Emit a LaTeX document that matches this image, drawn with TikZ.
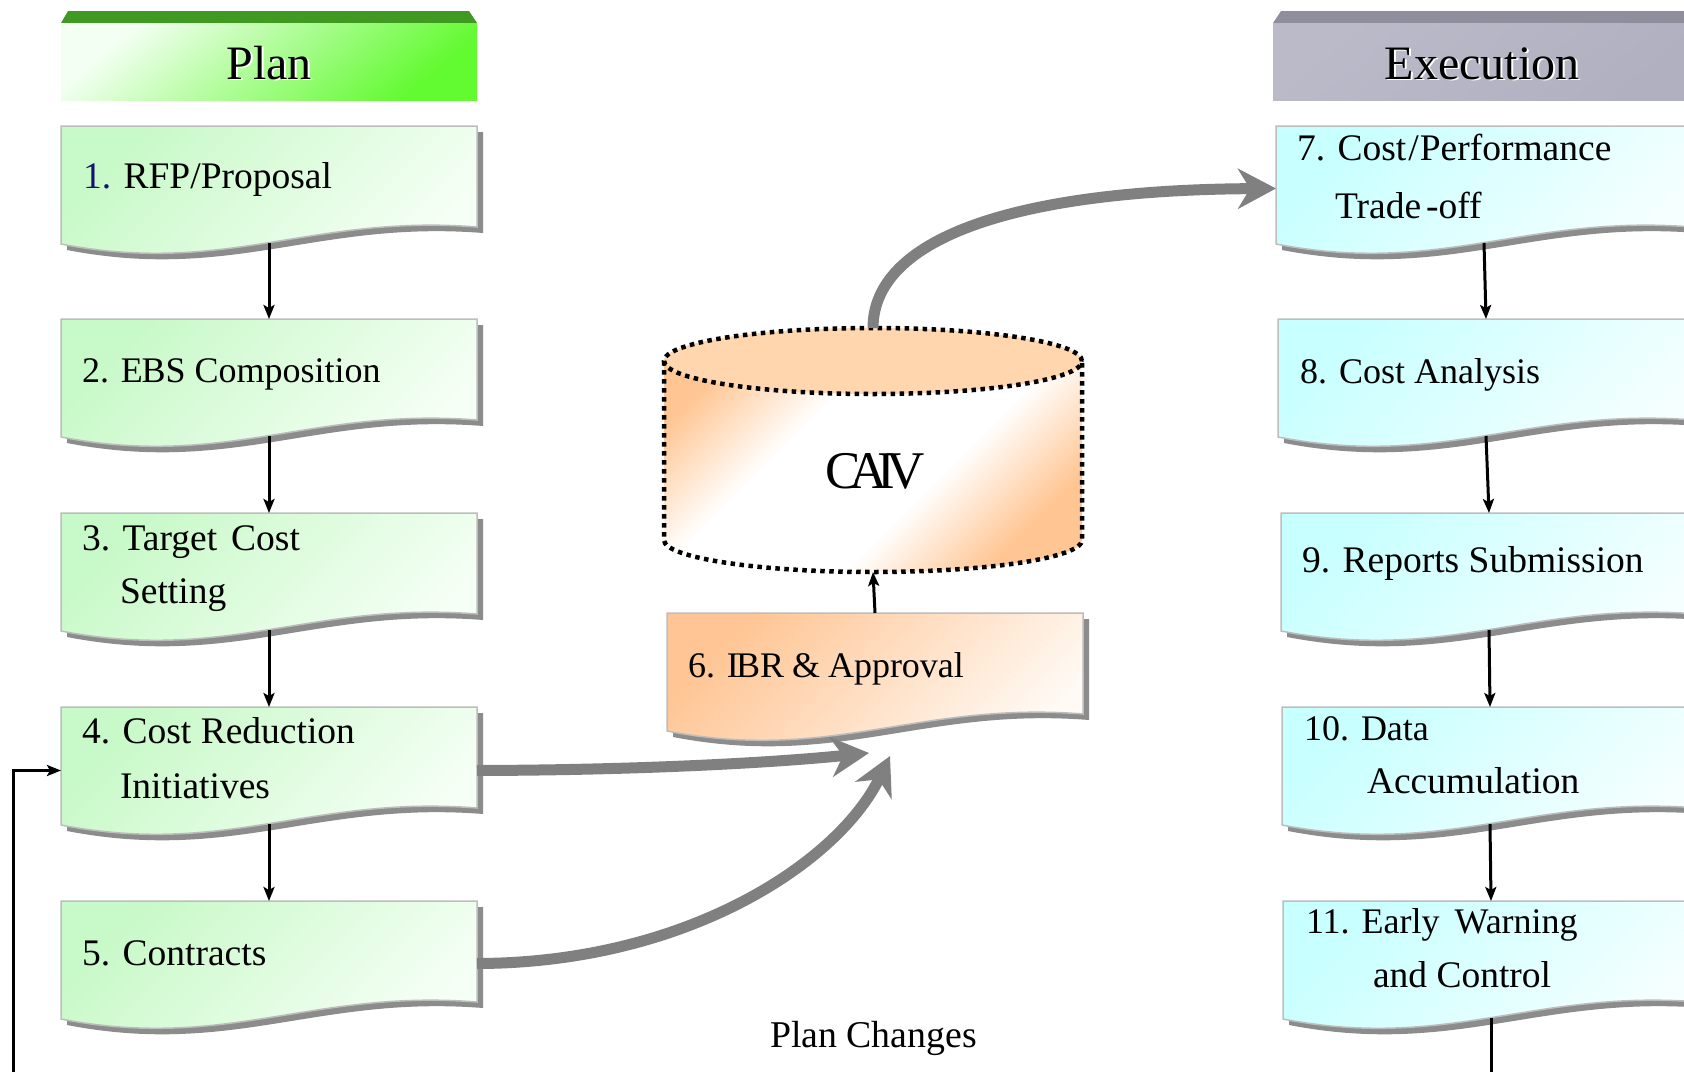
\documentclass[tikz,border=0pt]{standalone}
\usepackage{fontspec}
\setmainfont{Liberation Serif}
\usetikzlibrary{arrows.meta,calc}

\definecolor{planA}{HTML}{C8F9C8}
\definecolor{planB}{HTML}{F6FFF6}
\definecolor{execA}{HTML}{C8FFFF}
\definecolor{execB}{HTML}{F6FFFF}
\definecolor{ibrA}{HTML}{FFC594}
\definecolor{ibrB}{HTML}{FFFAF5}
\definecolor{cylOr}{HTML}{FFC693}
\definecolor{cylTop}{HTML}{FFD6AD}
\definecolor{boxline}{HTML}{BDBDBD}
\definecolor{docshadow}{HTML}{8C8C8C}
\definecolor{arrowgray}{HTML}{808080}
\definecolor{planband}{HTML}{409A22}
\definecolor{planhdrA}{HTML}{F4FFF4}
\definecolor{planhdrB}{HTML}{62FA30}
\definecolor{execband}{HTML}{8E8E9C}
\definecolor{exechdrA}{HTML}{BABAC9}
\definecolor{exechdrB}{HTML}{B0B0C0}
\definecolor{numblue}{HTML}{14146E}

% body of the CAIV store: orange corners, broad white middle
\pgfdeclareverticalshading{cylbody}{100bp}{%
  color(0bp)=(cylOr); color(25bp)=(cylOr); color(40bp)=(white);
  color(60bp)=(white); color(75bp)=(cylOr); color(100bp)=(cylOr)}

% document-style box: x, y of top-left corner, two gradient colours
\newcommand\docshape[4]{%
  \fill[docshadow] ({#1+6},{#2+6}) -- ({#1+422},{#2+6}) -- ({#1+422},{#2+107})
    .. controls ({#1+256},{#2+94}) and ({#1+172},{#2+156}) .. ({#1+6},{#2+124}) -- cycle;
  \shadedraw[top color=#3, bottom color=#4, shading angle=45, draw=boxline, line width=1.5pt]
    (#1,#2) -- ({#1+416},#2) -- ({#1+416},{#2+101})
    .. controls ({#1+250},{#2+88}) and ({#1+166},{#2+150}) .. (#1,{#2+118}) -- cycle;
}

\tikzset{
  every node/.style={inner sep=0pt, outer sep=0pt},
  boxnode/.style={anchor=north west, minimum width=416pt, minimum height=117pt, draw=none},
  boxtext/.style={anchor=base west, font=\fontsize{37.5}{40}\selectfont},
  smalltext/.style={boxtext, font=\fontsize{36}{40}\selectfont},
  hdrtext/.style={anchor=base, font=\fontsize{48}{52}\selectfont},
  blk/.style={line width=3pt, draw=black, -{Stealth[length=14pt,width=11pt,inset=3pt]}},
  blkline/.style={line width=3pt, draw=black},
  garr/.style={line width=11pt, draw=arrowgray, -{Stealth[length=38pt,width=40pt,inset=12pt]}},
  cyldot/.style={draw=black, line width=4.5pt, dash pattern=on 4.5pt off 4.5pt},
}

\begin{document}
\begin{tikzpicture}[x=1pt, y=-1pt]
\useasboundingbox (0,0) rectangle (1684,1071);
\fill[white] (0,0) rectangle (1684,1071);
\clip (0,0) rectangle (1684,1071);

% column headers
\fill[planband] (68,11) -- (469,11) -- (477,23) -- (61,23) -- cycle;
\shade[top color=planhdrA, bottom color=planhdrB, shading angle=40] (61,23) rectangle (477,100);
\node[hdrtext, text=white] (hplansh) at (271,80.5) {Plan};
\node[hdrtext] (hplan) at (269,79) {Plan};

\fill[execband] (1281,11) -- (1700,11) -- (1700,23) -- (1273,23) -- cycle;
\shade[top color=exechdrA, bottom color=exechdrB, shading angle=40] (1273,23) rectangle (1700,100);
\node[hdrtext, text=white] (hexecsh) at (1484,80.5) {Execution};
\node[hdrtext] (hexec) at (1482,79) {Execution};

% planning steps
\docshape{61}{126}{planA}{planB}
\docshape{61}{319}{planA}{planB}
\docshape{61}{513}{planA}{planB}
\docshape{61}{707}{planA}{planB}
\docshape{61}{901}{planA}{planB}
\node[boxnode] (b1) at (61,126) {};
\node[boxnode] (b2) at (61,319) {};
\node[boxnode] (b3) at (61,513) {};
\node[boxnode] (b4) at (61,707) {};
\node[boxnode] (b5) at (61,901) {};

\node[boxtext] (t1) at (83,188) {{\color{numblue}1.} RFP/Proposal};
\node[smalltext] (t2) at (82,382) {2. E\kern-1.5pt BS Composition};
\node[boxtext] (t3a) at (82,550) {3. Target\kern14pt Cost};
\node[boxtext] (t3b) at (120,603) {Setting};
\node[boxtext] (t4a) at (82,743) {4. Cost Reduction};
\node[boxtext] (t4b) at (120,798) {Initiatives};
\node[boxtext] (t5) at (82,965) {5. Contracts};

% execution steps
\docshape{1276}{126}{execA}{execB}
\docshape{1278}{319}{execA}{execB}
\docshape{1281}{513}{execA}{execB}
\docshape{1282}{707}{execA}{execB}
\docshape{1283}{901}{execA}{execB}
\node[boxnode] (b7) at (1276,126) {};
\node[boxnode] (b8) at (1278,319) {};
\node[boxnode] (b9) at (1281,513) {};
\node[boxnode] (b10) at (1282,707) {};
\node[boxnode] (b11) at (1283,901) {};

\node[boxtext] (t7a) at (1297,160) {7. Cost\kern2pt/\kern1pt Performance};
\node[boxtext] (t7b) at (1335,218) {Trade\kern5pt-off};
\node[smalltext] (t8) at (1300,383) {8. Cost Analysis};
\node[boxtext] (t9) at (1302,572) {9. Reports Submission};
\node[smalltext] (t10a) at (1304,740) {10. Data};
\node[boxtext] (t10b) at (1367,793) {Accumulation};
\node[smalltext] (t11a) at (1306,933) {11. Early\kern6pt\ Warning};
\node[boxtext] (t11b) at (1373,987) {and Control};

% approval step
\docshape{667}{613}{ibrA}{ibrB}
\node[boxnode] (b6) at (667,613) {};
\node[smalltext] (t6) at (688,677) {6. I\kern-3pt BR \kern-1pt\&\kern-1pt\ Approval};

% CAIV cylinder
\shade[shading=cylbody, shading angle=45]
  (664,361) -- (664,540) arc[start angle=180, end angle=360, x radius=209pt, y radius=32pt]
  -- (1082,361) arc[start angle=0, end angle=180, x radius=209pt, y radius=33pt] -- cycle;
\fill[cylTop] (873,361) ellipse[x radius=209pt, y radius=33pt];
\draw[cyldot] (873,361) ellipse[x radius=209pt, y radius=33pt];
\draw[cyldot] (664,361) -- (664,540) arc[start angle=180, end angle=360, x radius=209pt, y radius=32pt] -- (1082,361);
\node[minimum width=418pt, minimum height=244pt, anchor=north] (caiv) at (873,328) {};
\node[anchor=base, font=\fontsize{53}{56}\selectfont] (caivlbl) at (875,488) {C\kern-12pt A\kern-10pt I\kern-9pt V};

% flow inside the columns
\draw[blk] (b1.south) -- (b2.north);
\draw[blk] (b2.south) -- (b3.north);
\draw[blk] (b3.south) -- (b4.north);
\draw[blk] (b4.south) -- (b5.north);
\draw[blk] (b7.south) -- (b8.north);
\draw[blk] (b8.south) -- (b9.north);
\draw[blk] (b9.south) -- (b10.north);
\draw[blk] (b10.south) -- (b11.north);
\coordinate (downend) at (1491,1085);
\draw[blkline] (b11.south) -- (downend);
\draw[blk] (b6.north) -- (caiv.south);

% plan-change loop back into step 4
\coordinate (loopend) at (13,1085);
\draw[blk] (loopend) |- ([yshift=-5pt]b4.west);

% main transfers
\draw[garr] ([yshift=-5pt]b4.east) .. controls (650,770) and (780,762) .. ([xshift=-6pt,yshift=-23pt]b6.south);
\draw[garr] ([yshift=-4pt]b5.east) .. controls (690,963) and (840,860) .. ([xshift=15pt,yshift=-26pt]b6.south);
\draw[garr] (caiv.north) .. controls (873,240) and (1010,190) .. ([yshift=-4pt]b7.west);

\node[anchor=base west, font=\fontsize{37.8}{40}\selectfont] (chg) at (770,1047) {Plan Changes};
\end{tikzpicture}
\end{document}
